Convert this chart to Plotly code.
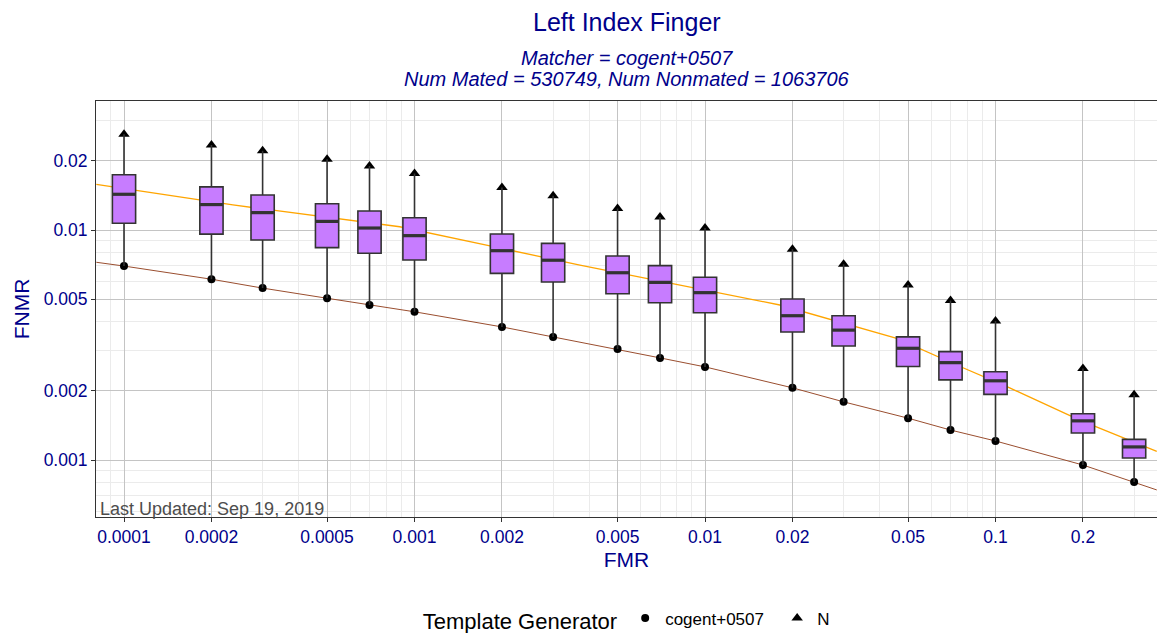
import numpy as np
import plotly.graph_objects as go

# Box summaries of FNMR at each operating FMR
fmr = [0.0001, 0.0002, 0.0003, 0.0005, 0.0007, 0.001, 0.002, 0.003, 0.005,
       0.007, 0.01, 0.02, 0.03, 0.05, 0.07, 0.1, 0.2, 0.3]
fnmr_cogent = [0.00697, 0.00611, 0.00559, 0.00505, 0.00472, 0.00441, 0.00379,
               0.00343, 0.00304, 0.00278, 0.00254, 0.00206, 0.00179, 0.00152,
               0.00135, 0.00121, 0.000951, 0.000802]
fnmr_q1 = [0.0107, 0.0096, 0.00905, 0.00838, 0.00792, 0.00741, 0.00648, 0.00594,
           0.00528, 0.00483, 0.00437, 0.00360, 0.00313, 0.00255, 0.00223, 0.00193,
           0.00131, 0.00102]
fnmr_median = [0.0143, 0.0129, 0.0119, 0.0109, 0.0102, 0.00945, 0.00813, 0.00739,
               0.00652, 0.00592, 0.00534, 0.00424, 0.00367, 0.00306, 0.00265,
               0.00221, 0.00148, 0.00114]
fnmr_q3 = [0.0174, 0.0154, 0.0142, 0.0130, 0.0121, 0.0113, 0.00961, 0.00875,
           0.00771, 0.00700, 0.00623, 0.00501, 0.00424, 0.00343, 0.00296, 0.00242,
           0.00159, 0.00123]
fnmr_n = [0.0261, 0.0234, 0.0221, 0.0203, 0.0190, 0.0176, 0.0153, 0.0141, 0.0124,
          0.0114, 0.0102, 0.00824, 0.00709, 0.00577, 0.00494, 0.00402, 0.00250,
          0.00192]

# DET curves
orange_fmr = [8.03e-5, 2.37e-4, 8.9e-4, 0.00371, 0.0181, 0.0457, 0.0755, 0.110, 0.195, 0.359]
orange_fnmr = [0.0158, 0.01285, 0.01033, 0.00704, 0.00472, 0.00338, 0.00255, 0.00208, 0.00149, 0.00109]
brown_fmr = [8.03e-5] + fmr + [0.359]
brown_fnmr = [0.00724] + fnmr_cogent + [0.000741]

# Axis ticks
x_major = [0.0001, 0.0002, 0.0005, 0.001, 0.002, 0.005, 0.01, 0.02, 0.05, 0.1, 0.2]
x_labels = ["0.0001", "0.0002", "0.0005", "0.001", "0.002", "0.005", "0.01", "0.02", "0.05", "0.1", "0.2"]
x_minor = [9e-5, 3e-4, 4e-4, 6e-4, 7e-4, 8e-4, 9e-4, 3e-3, 4e-3, 6e-3, 7e-3, 8e-3, 9e-3,
           0.03, 0.04, 0.06, 0.07, 0.08, 0.09, 0.3]
y_major = [0.001, 0.002, 0.005, 0.01, 0.02]
y_labels = ["0.001", "0.002", "0.005", "0.01", "0.02"]
y_minor = [0.0006, 0.0007, 0.0008, 0.0009, 0.003, 0.004, 0.006, 0.007, 0.008, 0.009, 0.03]

X_RANGE = [-4.0964, -0.4441]
Y_RANGE = [-3.2478, -1.4391]
BOX_W = 0.08  # box width in decades of FMR
NAVY = "#00008B"
DARK = "#333333"
FONT = "Liberation Sans, Arial, sans-serif"

pos = np.log10(fmr)

fig = go.Figure()
fig.add_trace(go.Scatter(x=orange_fmr, y=orange_fnmr, mode="lines",
                         line=dict(color="#FFA500", width=1.3), showlegend=False))
fig.add_trace(go.Scatter(x=brown_fmr, y=brown_fnmr, mode="lines",
                         line=dict(color="#9A4E2F", width=1.0), showlegend=False))
fig.add_trace(go.Scatter(x=fmr, y=fnmr_cogent, mode="markers", name="cogent+0507",
                         marker=dict(symbol="circle", size=8, color="black")))
fig.add_trace(go.Scatter(x=fmr, y=fnmr_n, mode="markers", name="N",
                         marker=dict(symbol="triangle-up", size=10, color="black")))

# boxes on a linear overlay axis in log10(FMR) units so widths stay uniform
fig.add_trace(go.Box(x=pos, q1=fnmr_q1, median=fnmr_median, q3=fnmr_q3,
                     lowerfence=fnmr_cogent, upperfence=fnmr_n, orientation="v",
                     xaxis="x2", yaxis="y", width=BOX_W, whiskerwidth=0,
                     fillcolor="#C77CFF", line=dict(color=DARK, width=1.6),
                     boxpoints=False, showlegend=False))
mx, my = [], []
for p, m in zip(pos, fnmr_median):
    mx += [p - BOX_W / 2, p + BOX_W / 2, None]
    my += [m, m, None]
fig.add_trace(go.Scatter(x=mx, y=my, xaxis="x2", yaxis="y", mode="lines",
                         line=dict(color=DARK, width=3.2), showlegend=False))

axis_common = dict(
    type="log", tickmode="array", showgrid=True, gridcolor="#C4C4C4", gridwidth=1.4,
    ticks="outside", ticklen=4, tickcolor=DARK, tickwidth=1,
    showline=True, linecolor=DARK, linewidth=1.1, zeroline=False,
    tickfont=dict(family=FONT, size=17.5, color=NAVY),
)

fig.update_layout(
    width=1157, height=633,
    margin=dict(l=96, r=0, t=101, b=116),
    paper_bgcolor="white", plot_bgcolor="white",
    font=dict(family=FONT),
    xaxis=dict(**axis_common, range=X_RANGE, tickvals=x_major, ticktext=x_labels,
               mirror=True,
               minor=dict(tickmode="array", tickvals=x_minor, showgrid=True,
                          gridcolor="#EBEBEB", gridwidth=0.9),
               title=dict(text="FMR", font=dict(family=FONT, size=21, color=NAVY), standoff=6)),
    xaxis2=dict(overlaying="x", anchor="y", range=X_RANGE, visible=False, type="linear"),
    yaxis=dict(**axis_common, range=Y_RANGE, tickvals=y_major, ticktext=y_labels,
               mirror=False,
               minor=dict(tickmode="array", tickvals=y_minor, showgrid=True,
                          gridcolor="#EBEBEB", gridwidth=0.9),
               title=dict(text="FNMR", font=dict(family=FONT, size=21, color=NAVY), standoff=8)),
    legend=dict(orientation="h", xref="container", yref="container",
                x=0.5836, xanchor="center", y=0.0205, yanchor="middle",
                entrywidth=107, entrywidthmode="pixels",
                title=dict(text="Template Generator", font=dict(family=FONT, size=22, color="black")),
                font=dict(family=FONT, size=17, color="black")),
    annotations=[
        dict(text="Left Index Finger", xref="paper", yref="paper", x=0.5, y=1.0, yshift=79,
             xanchor="center", yanchor="middle",
             showarrow=False, font=dict(family=FONT, size=25, color=NAVY)),
        dict(text="<i>Matcher = cogent+0507</i>", xref="paper", yref="paper", x=0.5, y=1.0,
             xanchor="center", yanchor="middle",
             yshift=43, showarrow=False, font=dict(family=FONT, size=20, color=NAVY)),
        dict(text="<i>Num Mated = 530749, Num Nonmated = 1063706</i>", xref="paper", yref="paper",
             xanchor="center", yanchor="middle",
             x=0.5, y=1.0, yshift=22, showarrow=False, font=dict(family=FONT, size=20, color=NAVY)),
        dict(text="Last Updated: Sep 19, 2019", xref="paper", yref="paper", x=0, y=0,
             xanchor="left", yanchor="bottom", xshift=2, yshift=-4, showarrow=False,
             font=dict(family=FONT, size=18, color="#4D4D4D")),
    ],
)

fig.write_html("out.html")
